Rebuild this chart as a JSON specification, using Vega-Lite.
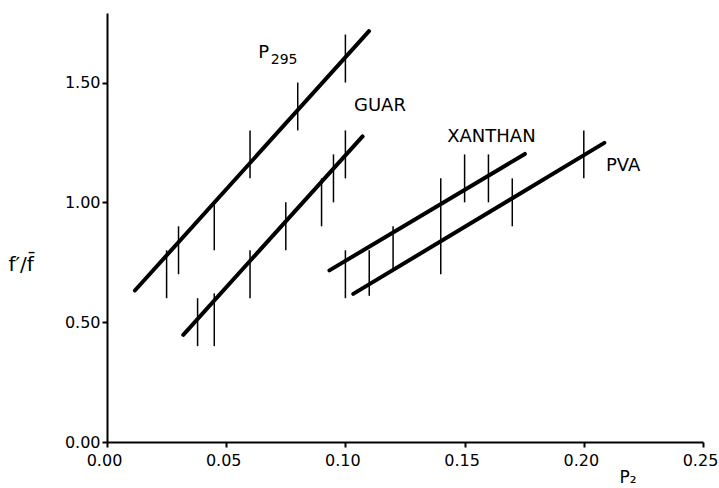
{
  "$schema": "https://vega.github.io/schema/vega-lite/v6.json",
  "width": 596,
  "height": 429,
  "autosize": "none",
  "padding": {"left": 107, "top": 13, "right": 16, "bottom": 46},
  "background": "white",
  "config": {
    "view": {"stroke": null},
    "font": "DejaVu Sans",
    "axis": {"grid": false, "domainColor": "black", "domainWidth": 2, "labelColor": "black", "labelFont": "DejaVu Sans", "labelFontSize": 16, "labelFlush": false, "titleColor": "black", "titleFont": "DejaVu Sans", "titleFontWeight": "normal"}
  },
  "datasets": {
    "fits": [
      {"series": "P295", "x": 0.0117, "y": 0.632},
      {"series": "P295", "x": 0.1099, "y": 1.714},
      {"series": "GUAR", "x": 0.032, "y": 0.447},
      {"series": "GUAR", "x": 0.1072, "y": 1.275},
      {"series": "XANTHAN", "x": 0.0933, "y": 0.716},
      {"series": "XANTHAN", "x": 0.1753, "y": 1.202},
      {"series": "PVA", "x": 0.1033, "y": 0.618},
      {"series": "PVA", "x": 0.2086, "y": 1.248}
    ],
    "bars": [
      {"series": "P295", "x": 0.025, "lo": 0.60, "hi": 0.80},
      {"series": "P295", "x": 0.030, "lo": 0.70, "hi": 0.90},
      {"series": "P295", "x": 0.045, "lo": 0.80, "hi": 1.00},
      {"series": "P295", "x": 0.060, "lo": 1.10, "hi": 1.30},
      {"series": "P295", "x": 0.080, "lo": 1.30, "hi": 1.50},
      {"series": "P295", "x": 0.100, "lo": 1.50, "hi": 1.70},
      {"series": "GUAR", "x": 0.038, "lo": 0.40, "hi": 0.60},
      {"series": "GUAR", "x": 0.045, "lo": 0.40, "hi": 0.62},
      {"series": "GUAR", "x": 0.060, "lo": 0.60, "hi": 0.80},
      {"series": "GUAR", "x": 0.075, "lo": 0.80, "hi": 1.00},
      {"series": "GUAR", "x": 0.090, "lo": 0.90, "hi": 1.10},
      {"series": "GUAR", "x": 0.095, "lo": 1.00, "hi": 1.20},
      {"series": "GUAR", "x": 0.100, "lo": 1.10, "hi": 1.30},
      {"series": "XANTHAN", "x": 0.100, "lo": 0.60, "hi": 0.80},
      {"series": "PVA", "x": 0.110, "lo": 0.61, "hi": 0.80},
      {"series": "XANTHAN", "x": 0.120, "lo": 0.72, "hi": 0.90},
      {"series": "XANTHAN", "x": 0.140, "lo": 0.70, "hi": 1.10},
      {"series": "XANTHAN", "x": 0.150, "lo": 1.00, "hi": 1.20},
      {"series": "XANTHAN", "x": 0.160, "lo": 1.00, "hi": 1.20},
      {"series": "PVA", "x": 0.170, "lo": 0.90, "hi": 1.10},
      {"series": "PVA", "x": 0.200, "lo": 1.10, "hi": 1.30}
    ],
    "labels": [
      {"label": "P", "x": 0.0634, "y": 1.604},
      {"label": "GUAR", "x": 0.1036, "y": 1.380},
      {"label": "XANTHAN", "x": 0.1427, "y": 1.250},
      {"label": "PVA", "x": 0.2093, "y": 1.130}
    ],
    "subs": [
      {"label": "295", "x": 0.0687, "y": 1.579}
    ]
  },
  "layer": [
    {
      "data": {"name": "bars"},
      "mark": {"type": "rule", "color": "black", "strokeWidth": 1.5},
      "encoding": {
        "x": {"field": "x", "type": "quantitative", "scale": {"domain": [0, 0.25], "nice": false, "zero": false},
          "axis": {"values": [0, 0.05, 0.1, 0.15, 0.2, 0.25], "format": ".2f", "ticks": true, "tickSize": 5, "tickWidth": 2, "tickColor": "black", "labelOffset": -3, "labelPadding": 5, "title": "P₂", "titleFontSize": 17, "titleAlign": "left", "titleBaseline": "alphabetic", "titleX": 512, "titleY": 40, "titleAnchor": null}},
        "y": {"field": "lo", "type": "quantitative", "scale": {"domain": [0, 1.79], "nice": false, "zero": false},
          "axis": {"values": [0, 0.5, 1, 1.5], "format": ".2f", "ticks": true, "tickSize": 5, "tickWidth": 2, "tickColor": "black", "labelPadding": 2, "title": "f′/f̄", "titleFontSize": 20, "titleAngle": 0, "titleAlign": "left", "titleBaseline": "alphabetic", "titleX": -99, "titleY": 257, "titleAnchor": null}},
        "y2": {"field": "hi"}
      }
    },
    {
      "data": {"name": "fits"},
      "mark": {"type": "line", "color": "black", "strokeWidth": 4, "strokeCap": "round"},
      "encoding": {
        "x": {"field": "x", "type": "quantitative"},
        "y": {"field": "y", "type": "quantitative"},
        "detail": {"field": "series"}
      }
    },
    {
      "data": {"name": "labels"},
      "mark": {"type": "text", "align": "left", "baseline": "alphabetic", "fontSize": 18, "color": "black"},
      "encoding": {
        "x": {"field": "x", "type": "quantitative"},
        "y": {"field": "y", "type": "quantitative"},
        "text": {"field": "label"}
      }
    },
    {
      "data": {"name": "subs"},
      "mark": {"type": "text", "align": "left", "baseline": "alphabetic", "fontSize": 14, "color": "black"},
      "encoding": {
        "x": {"field": "x", "type": "quantitative"},
        "y": {"field": "y", "type": "quantitative"},
        "text": {"field": "label"}
      }
    }
  ]
}
